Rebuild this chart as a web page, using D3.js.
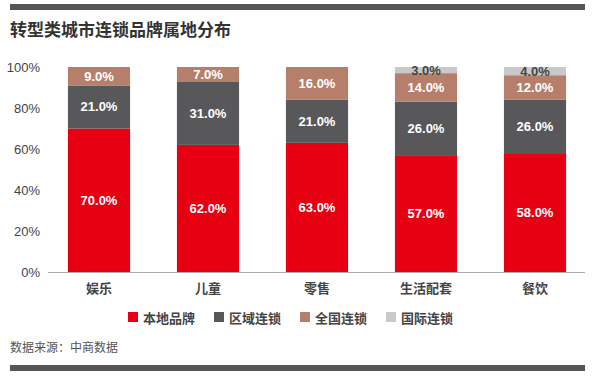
<!doctype html>
<html>
<head>
<meta charset="utf-8">
<script src="https://cdnjs.cloudflare.com/ajax/libs/d3/7.8.5/d3.min.js"></script>
<style>
  body { margin: 0; background: #fff; }
  svg text { font-family: "Noto Sans CJK SC", "Liberation Sans", Arial, sans-serif; }
  svg text.num { font-family: "Liberation Sans", Arial, sans-serif; }
</style>
</head>
<body>
<div id="chart"></div>
<script>
const categories = ['娱乐', '儿童', '零售', '生活配套', '餐饮'];
const seriesNames = ['本地品牌', '区域连锁', '全国连锁', '国际连锁'];
const local = [70, 62, 63, 57, 58];
const regional = [21, 31, 21, 26, 26];
const national = [9, 7, 16, 14, 12];
const international = [0, 0, 0, 3, 4];
const yTicks = [0, 20, 40, 60, 80, 100];

const colors = ['#e60012', '#58585a', '#b67f6b', '#c9c9c9'];
const labelColors = ['#fff', '#fff', '#fff', '#444'];

const width = 597, height = 385;
const svg = d3.select('#chart').append('svg')
    .attr('width', width)
    .attr('height', height);

// top and bottom rules
svg.append('rect').attr('x', 10).attr('y', 4).attr('width', 575).attr('height', 6).attr('fill', '#555');
svg.append('rect').attr('x', 10).attr('y', 365).attr('width', 575).attr('height', 6).attr('fill', '#555');

svg.append('text')
    .attr('x', 10).attr('y', 36)
    .attr('font-size', 17).attr('font-weight', 'bold').attr('fill', '#333')
    .text('转型类城市连锁品牌属地分布');

const table = categories.map((c, i) => ({
    cat: c,
    '本地品牌': local[i], '区域连锁': regional[i], '全国连锁': national[i], '国际连锁': international[i]
}));
const stacked = d3.stack().keys(seriesNames)(table);

const x = d3.scaleBand().domain(categories).range([44.5, 589.5]).paddingInner(0.43).paddingOuter(0.215);
const y = d3.scaleLinear().domain([0, 100]).range([272, 67]);

// y axis labels
svg.append('g').selectAll('text')
    .data(yTicks).enter().append('text')
    .attr('class', 'num')
    .attr('x', 40).attr('y', d => y(d) + 4.5)
    .attr('text-anchor', 'end').attr('font-size', 13).attr('fill', '#444')
    .text(d => d + '%');

const layers = svg.append('g').selectAll('g')
    .data(stacked).enter().append('g')
    .attr('fill', (d, i) => colors[i]);

layers.selectAll('rect')
    .data(d => d.filter(p => p[1] - p[0] > 0))
    .enter().append('rect')
    .attr('x', d => x(d.data.cat))
    .attr('width', x.bandwidth())
    .attr('y', d => y(d[1]))
    .attr('height', d => y(d[0]) - y(d[1]));

// value labels
stacked.forEach((s, si) => {
    svg.append('g').selectAll('text')
        .data(s.filter(p => p[1] - p[0] > 0)).enter().append('text')
        .attr('class', 'num')
        .attr('x', d => x(d.data.cat) + x.bandwidth() / 2)
        .attr('y', d => (y(d[0]) + y(d[1])) / 2 + 4.5)
        .attr('text-anchor', 'middle')
        .attr('font-size', 13).attr('font-weight', 'bold')
        .attr('fill', labelColors[si])
        .text(d => (d[1] - d[0]).toFixed(1) + '%');
});

// baseline
svg.append('line').attr('x1', 48).attr('x2', 585).attr('y1', 272.5).attr('y2', 272.5)
    .attr('stroke', '#aaa').attr('stroke-width', 1);

// category labels
svg.append('g').selectAll('text')
    .data(categories).enter().append('text')
    .attr('x', d => x(d) + x.bandwidth() / 2).attr('y', 293)
    .attr('text-anchor', 'middle').attr('font-size', 13).attr('font-weight', 'bold').attr('fill', '#444')
    .text(d => d);

// legend
const legendX = [128, 214, 300, 386];
const legend = svg.append('g').selectAll('g')
    .data(seriesNames).enter().append('g')
    .attr('transform', (d, i) => `translate(${legendX[i]},318)`);
legend.append('rect').attr('x', 0).attr('y', -6).attr('width', 10).attr('height', 10)
    .attr('fill', (d, i) => colors[i]);
legend.append('text').attr('x', 15).attr('y', 4.5)
    .attr('font-size', 13).attr('font-weight', 'bold').attr('fill', '#444')
    .text(d => d);

svg.append('text')
    .attr('x', 10).attr('y', 352)
    .attr('font-size', 12).attr('fill', '#555')
    .text('数据来源：中商数据');
</script>
</body>
</html>
